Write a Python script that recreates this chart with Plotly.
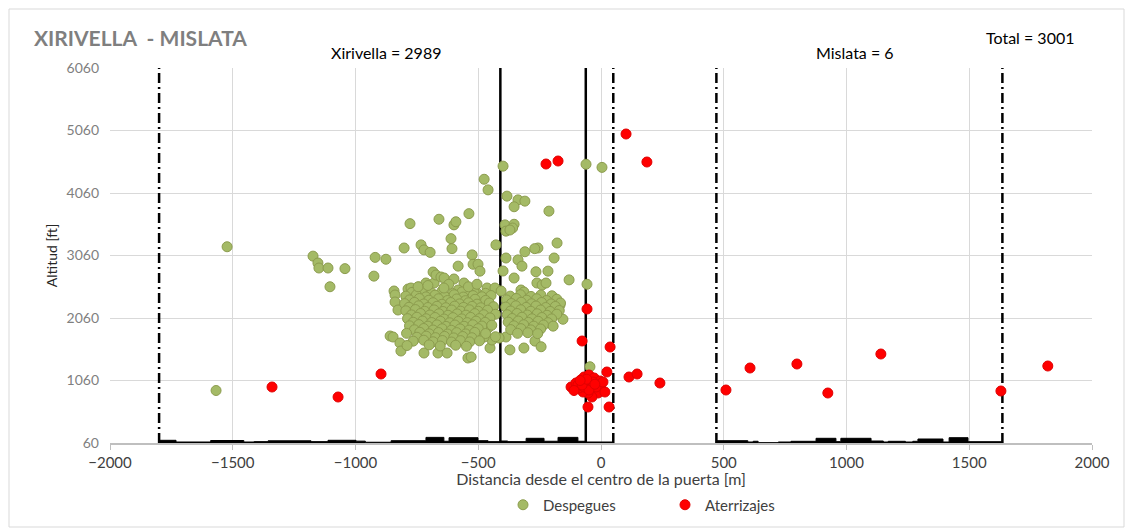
import plotly.graph_objects as go

# ---------------- data ----------------
# Despegues (take-offs): distance [m], altitude [ft]
dep_x = [
    -1523, -1568, -1173, -1153, -1149, -1112, -1043, -1104, -920, -876, -925,
    -778, -802, -733, -721, -696, -660, -599, -591, -538, -611, -607, -525, -582,
    -521, -501, -493, -558, -476, -460, -399, -383, -338, -310, -354, -212, -391,
    -354, -387, -360, -179, -428, -257, -270, -61, 4, -57, -130, -191, -310, -338,
    -322, -387, -216, -265, -155, -269, -244, -314, -371, -452, -45,
    -843, -839, -839, -827, -859, -847, -819, -815, -786, -774, -786, -741, -713,
    -680, -684, -672, -652, -639, -599, -582, -509, -497, -721, -664, -627, -542,
    -371, -399, -354, -261, -240, -224, -326, -314, -191, -167, -387, -415, -444,
    -464, -432, -407, -444, -489, -476, -489, -460, -501, -476, -529, -517,
    # left cluster core
    -770, -728, -690, -648, -604, -566, -532, -470,
    -795, -752, -713, -676, -637, -598, -561, -521, -485, -448,
    -780, -740, -701, -662, -625, -588, -552, -513, -470,
    -800, -760, -722, -684, -648, -612, -576, -540, -505, -455,
    -782, -743, -705, -668, -632, -596, -560, -525, -490, -438,
    -795, -756, -718, -680, -644, -608, -572, -536, -500, -462,
    -772, -735, -697, -660, -623, -586, -550, -514, -478, -430,
    -788, -750, -712, -676, -639, -603, -567, -531, -495, -452,
    -765, -727, -690, -654, -617, -581, -545, -509, -472,
    -780, -742, -705, -668, -631, -595, -558, -522, -485, -445,
    -760, -722, -684, -647, -610, -574, -537, -500,
    -792, -738, -700, -662, -625, -588, -551, -514, -470,
    -750, -712, -674, -637, -600, -563, -526, -430,
    -765, -722, -684, -646, -609, -572, -535, -495,
    -790, -700, -655, -592, -548,
    -745, -705, -620, -540, -505, -640,
    # right cluster core
    -370, -328, -285, -245, -200,
    -385, -345, -303, -262, -222, -180,
    -365, -325, -283, -242, -203, -165,
    -388, -347, -305, -265, -225, -186,
    -368, -327, -286, -246, -207, -170,
    -382, -342, -300, -260, -220, -180,
    -362, -322, -281, -241, -201,
    -378, -337, -296, -256, -216,
    -355, -315, -274, -234, -195,
    -368, -326, -286, -246,
    -340, -298, -258,
]
dep_y = [
    3200, 900, 3050, 2940, 2860, 2860, 2850, 2560, 3030, 3000, 2730,
    3570, 3180, 3230, 3150, 3110, 3640, 3550, 3600, 3730, 3330, 3170, 3070, 2890,
    2920, 2920, 2810, 2620, 4280, 4110, 4490, 4010, 3950, 3930, 3840, 3770, 3550,
    3560, 3450, 3500, 3260, 3230, 3180, 3170, 4520, 4470, 2600, 2670, 3020, 3120, 2990,
    2890, 3020, 2810, 2800, 2040, 1690, 1600, 1580, 1550, 1580, 1280,
    2492, 2428, 2316, 2188, 1772, 1756, 1660, 1532, 2524, 2540, 2380, 2556, 2620,
    2620, 2796, 2748, 2716, 2700, 2684, 2508, 2476, 2348, 1500, 1500, 1500, 1420,
    3468, 2812, 2700, 2620, 2588, 2620, 2508, 2476, 2380, 2268, 1756, 1740, 1708,
    2540, 2540, 2492, 2172, 2348, 2140, 1948, 1900, 1788, 1756, 1436, 2476,
    # left cluster core
    2470, 2495, 2460, 2488, 2452, 2478, 2440, 2455,
    2410, 2430, 2398, 2425, 2405, 2432, 2395, 2418, 2400, 2420,
    2350, 2372, 2345, 2368, 2340, 2365, 2338, 2360, 2342,
    2290, 2310, 2285, 2305, 2280, 2308, 2286, 2304, 2282, 2300,
    2232, 2255, 2228, 2248, 2225, 2250, 2230, 2246, 2224, 2240,
    2175, 2195, 2168, 2190, 2165, 2188, 2170, 2192, 2168, 2185,
    2110, 2132, 2108, 2128, 2104, 2126, 2106, 2130, 2112, 2120,
    2050, 2072, 2048, 2068, 2044, 2066, 2046, 2070, 2050, 2062,
    1992, 2012, 1988, 2008, 1984, 2006, 1986, 2010, 1990,
    1935, 1955, 1930, 1950, 1926, 1948, 1928, 1952, 1932, 1945,
    1872, 1892, 1868, 1888, 1864, 1886, 1866, 1890,
    1815, 1832, 1808, 1828, 1804, 1826, 1806, 1830, 1812,
    1752, 1770, 1746, 1766, 1742, 1764, 1745, 1760,
    1690, 1705, 1680, 1700, 1676, 1698, 1678, 1695,
    1620, 1630, 1612, 1625, 1608,
    2560, 2580, 2600, 2560, 2600, 2540,
    # right cluster core
    2410, 2432, 2405, 2428, 2415,
    2350, 2372, 2345, 2368, 2340, 2360,
    2292, 2312, 2288, 2308, 2285, 2300,
    2235, 2255, 2230, 2252, 2228, 2245,
    2172, 2192, 2168, 2188, 2165, 2180,
    2112, 2132, 2108, 2128, 2104, 2122,
    2052, 2072, 2048, 2068, 2046,
    1995, 2012, 1990, 2008, 1986,
    1935, 1952, 1930, 1948, 1930,
    1875, 1890, 1870, 1885,
    1815, 1825, 1810,
]

# Aterrizajes (landings)
ate_x = [-1340, -1071, -896, -224, -175, 102, 187, -57, -77, 37, 24, 114, 147, 240,
         509, 607, 798, 924, 1140, 1629, 1820, -53, 33, -122, -102, -81, -69, -49,
         -28, -4, 0, -12, -37, -53, -73, -90, -61, -41, -20, -69, -94, -49, -33,
         -77, 8, 16, -110, -58, -25, -85]
ate_y = [956, 796, 1164, 4524, 4572, 5004, 4556, 2204, 1692, 1596, 1196, 1116, 1164, 1020,
         908, 1260, 1324, 860, 1484, 892, 1292, 636, 636, 956, 1020, 1068, 1116, 1148,
         1100, 1052, 924, 860, 796, 860, 876, 940, 1020, 988, 956, 956, 988, 908, 1036,
         988, 1036, 876, 900, 1080, 1000, 1060]

# Terrain profile (step starts), altitude [ft]
ter_l_x = [-1800, -1731, -1590, -1455, -1413, -1356, -1181, -1112, -998, -960, -855,
           -713, -640, -619, -501, -460, -410, -380, -305, -232, -175, -94, -61, 50]
ter_l_y = [103, 76, 100, 76, 82, 95, 82, 103, 90, 72, 97,
           150, 88, 145, 97, 82, 92, 82, 135, 88, 150, 88, 76, 76]
ter_r_x = [468, 598, 620, 640, 722, 774, 876, 957, 977, 1100, 1150, 1170, 1240,
           1270, 1291, 1393, 1418, 1495, 1635]
ter_r_y = [97, 76, 88, 66, 76, 87, 135, 82, 135, 92, 76, 87, 76,
           87, 124, 76, 145, 81, 81]

# Reference lines
dashdot_x = [-1800, 50, 470, 1635]
solid_x = [-410, -62]

y_ticks = [60, 1060, 2060, 3060, 4060, 5060, 6060]
x_ticks = [-2000, -1500, -1000, -500, 0, 500, 1000, 1500, 2000]

FONT = "Lato"

# page-pixel geometry of the plot area (page has an 8px body offset)
W, H = 1125, 522
PL, PT, PR, PB = 110, 68, 1092, 443
PW, PH = PR - PL, PB - PT


def px(x):
    return (x - PL) / PW


def py(y):
    return (PB - y) / PH


fig = go.Figure()

for tx, ty in ((ter_l_x, ter_l_y), (ter_r_x, ter_r_y)):
    fig.add_trace(go.Scatter(x=tx, y=ty, mode="lines", line=dict(color="black", width=1, shape="hv"),
                             fill="tozeroy", fillcolor="black", showlegend=False, hoverinfo="skip"))

fig.add_trace(go.Scatter(
    x=dep_x, y=dep_y, mode="markers", name="Despegues",
    marker=dict(size=10, color="#A4BA66", line=dict(color="#8C9C4E", width=1))))
fig.add_trace(go.Scatter(
    x=ate_x, y=ate_y, mode="markers", name="Aterrizajes",
    marker=dict(size=10, color="#FF0000", line=dict(color="#E00000", width=1))))

for xv in dashdot_x:
    fig.add_shape(type="line", xref="x", yref="y", x0=xv, x1=xv, y0=60, y1=6060,
                  line=dict(color="black", width=2.5, dash="10px,4px,2px,4px"), layer="between")
for xv in solid_x:
    fig.add_shape(type="line", xref="x", yref="y", x0=xv, x1=xv, y0=60, y1=6060,
                  line=dict(color="black", width=2.5), layer="between")

# chart border
fig.add_shape(type="rect", xref="paper", yref="paper",
              x0=px(9), x1=px(1124), y0=py(527), y1=py(9),
              line=dict(color="#D9D9D9", width=1), layer="below")

fig.add_annotation(text="<b>XIRIVELLA  - MISLATA</b>", xref="paper", yref="paper",
                   x=px(32), y=py(37), xanchor="left", yanchor="middle",
                   showarrow=False, font=dict(family=FONT, size=21, color="#7F7F7F"))
fig.add_annotation(text="Xirivella = 2989", xref="paper", yref="paper",
                   x=px(386), y=py(53), xanchor="center", yanchor="middle",
                   showarrow=False, font=dict(family=FONT, size=16, color="black"))
fig.add_annotation(text="Mislata = 6", xref="paper", yref="paper",
                   x=px(855), y=py(53), xanchor="center", yanchor="middle",
                   showarrow=False, font=dict(family=FONT, size=16, color="black"))
fig.add_annotation(text="Total = 3001", xref="paper", yref="paper",
                   x=px(1030), y=py(37), xanchor="center", yanchor="middle",
                   showarrow=False, font=dict(family=FONT, size=16, color="black"))

fig.update_layout(
    width=W, height=H,
    margin=dict(l=PL - 8, r=W - (PR - 8), t=PT - 8, b=H - (PB - 8), autoexpand=False),
    paper_bgcolor="white", plot_bgcolor="white",
    font=dict(family=FONT, size=14, color="#404040"),
    legend=dict(orientation="h", x=0.5 + 64 / PW, xanchor="center",
                yref="container", y=(H - (505 - 8)) / H, yanchor="middle",
                font=dict(family=FONT, size=15, color="#404040"), entrywidth=117,
                itemwidth=30, bgcolor="rgba(0,0,0,0)"),
    xaxis=dict(range=[-2000, 2000], tickvals=x_ticks, showgrid=True, gridcolor="#D9D9D9",
               gridwidth=1, zeroline=False, showline=True, linecolor="#BFBFBF", linewidth=1.5,
               ticks="outside", ticklen=5, tickcolor="#BFBFBF", automargin=False,
               tickfont=dict(family=FONT, size=15, color="#404040"),
               title=dict(text="Distancia desde el centro de la puerta [m]",
                          font=dict(family=FONT, size=16, color="#404040"), standoff=11)),
    yaxis=dict(range=[60, 6060], tickvals=y_ticks, showgrid=True, gridcolor="#D9D9D9",
               gridwidth=1, zeroline=False, showline=False, ticks="", automargin=False,
               ticklabelstandoff=10,
               tickfont=dict(family=FONT, size=14, color="#7F7F7F"),
               title=dict(text="Altitud [ft]", font=dict(family=FONT, size=14, color="#262626"),
                          standoff=5)),
)

fig.write_html("out.html")
